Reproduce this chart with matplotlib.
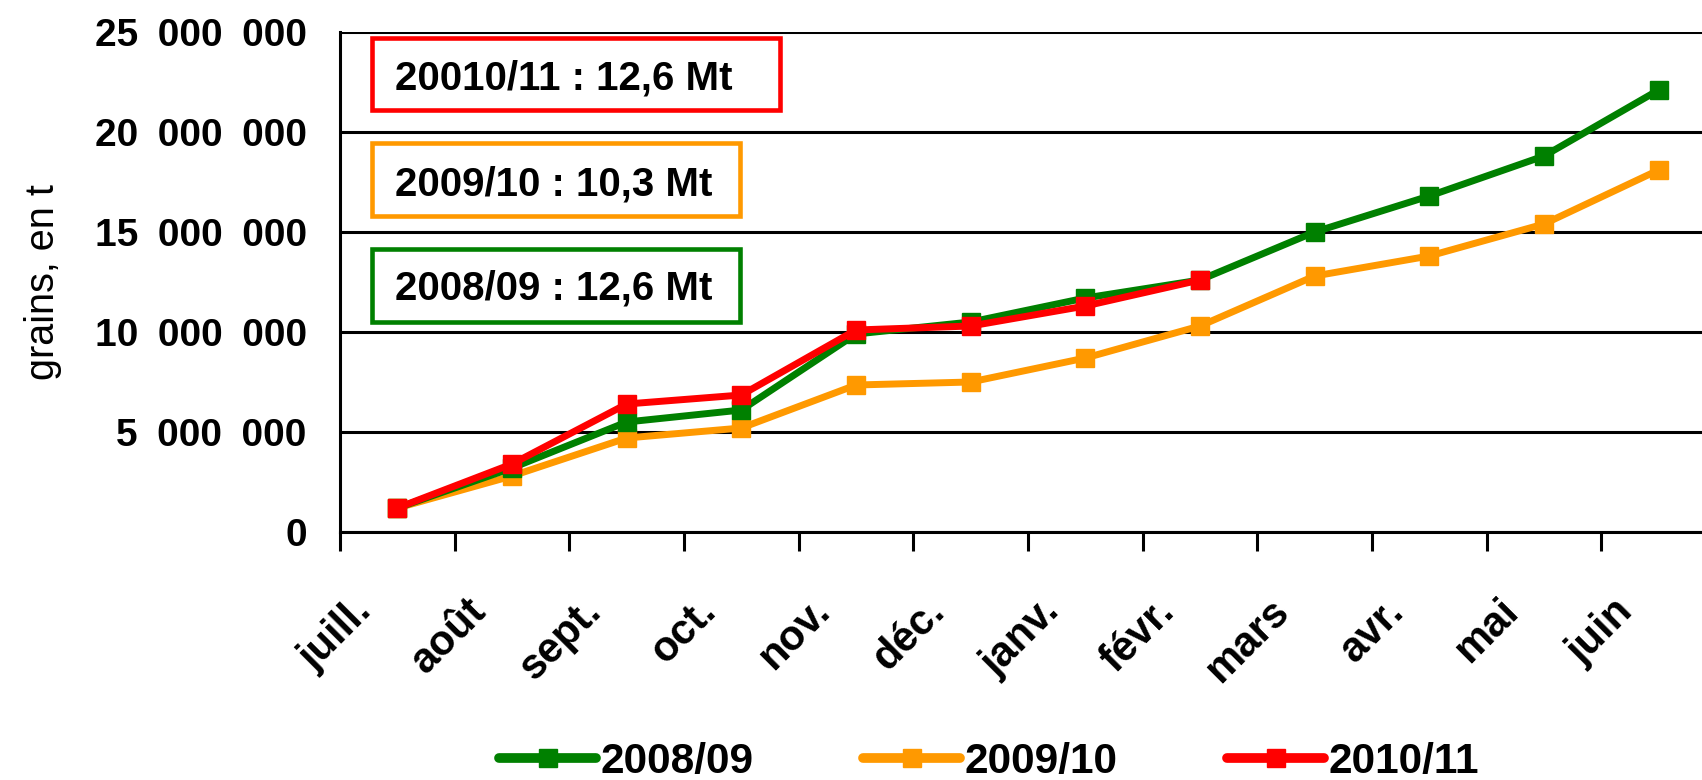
import matplotlib
matplotlib.use("Agg")
import matplotlib.pyplot as plt
from matplotlib.patches import Rectangle
from matplotlib.ticker import FuncFormatter, FixedLocator

plt.rcParams["font.family"] = ["Liberation Sans", "DejaVu Sans"]

months = ["juill.", "août", "sept.", "oct.", "nov.", "déc.",
          "janv.", "févr.", "mars", "avr.", "mai", "juin"]
s0809 = [1.2e6, 3.2e6, 5.5e6, 6.1e6, 9.9e6, 10.5e6, 11.7e6, 12.6e6,
         15.0e6, 16.8e6, 18.8e6, 22.1e6]
s0910 = [1.2e6, 2.8e6, 4.7e6, 5.2e6, 7.35e6, 7.5e6, 8.7e6, 10.3e6,
         12.8e6, 13.8e6, 15.4e6, 18.1e6]
s1011 = [1.2e6, 3.4e6, 6.4e6, 6.85e6, 10.1e6, 10.3e6, 11.3e6, 12.6e6]
series_labels = ["2008/09", "2009/10", "2010/11"]
box_texts = ["20010/11 : 12,6 Mt", "2009/10 : 10,3 Mt", "2008/09 : 12,6 Mt"]

GREEN, ORANGE, RED = "#008000", "#FF9900", "#FF0000"
W, H = 1702, 780
FS = 29

fig = plt.figure(figsize=(W / 100, H / 100), dpi=100)
# plot area runs past the right edge of the image, as in the original
ax = fig.add_axes([340 / W, 1 - 532 / H, 1376 / W, 500 / H])

x = list(range(len(months)))
kw = dict(marker="s", markersize=13, linewidth=5, solid_capstyle="round")
l1, = ax.plot(x, s0809, color=GREEN, zorder=4, **kw)
l2, = ax.plot(x, s0910, color=ORANGE, zorder=3, **kw)
l3, = ax.plot(x[:len(s1011)], s1011, color=RED, zorder=5, **kw)

ax.set_xlim(-0.5, 11.5)
ax.set_ylim(0, 25e6)
ax.set_yticks(range(0, 25000001, 5000000))
ax.yaxis.set_major_formatter(FuncFormatter(lambda v, p: f"{int(v):,}".replace(",", "\u2002")))
ax.grid(axis="y", color="black", linewidth=2.2, zorder=0)

ax.xaxis.set_major_locator(FixedLocator([i - 0.5 for i in range(13)]))
ax.set_xticklabels([])
ax.tick_params(axis="x", which="major", length=14, width=2.2, direction="out")
ax.tick_params(axis="y", length=0, labelsize=28, pad=24)
for t in ax.get_yticklabels():
    t.set_fontweight("bold")

# month labels, rotated under each category
for i, m in enumerate(months):
    ax.annotate(m, xy=(i, 0), xycoords=("data", "axes fraction"),
                xytext=(-46, -59), textcoords="offset pixels",
                rotation=45, rotation_mode="anchor", ha="right", va="top",
                fontsize=30, fontweight="bold")

for side in ["top", "right"]:
    ax.spines[side].set_visible(False)
for side in ["left", "bottom"]:
    ax.spines[side].set_linewidth(2.2)

ax.set_ylabel("grains, en t", fontsize=28.5)
ax.yaxis.set_label_coords(-0.202, 0.5)

# annotation boxes (pixel layout -> figure fractions)
boxes = [(371.5, 37.5, 780, 110, RED, 90),
         (371.5, 143, 740, 216, ORANGE, 195),
         (371.5, 249, 740, 322, GREEN, 300)]
for (x0, y0, x1, y1, c, base), txt in zip(boxes, box_texts):
    fig.patches.append(Rectangle((x0 / W, 1 - y1 / H), (x1 - x0) / W, (y1 - y0) / H,
                                 transform=fig.transFigure, fill=True, facecolor="white",
                                 edgecolor=c, linewidth=3.3, zorder=6))
    fig.text(395 / W, 1 - base / H, txt, fontsize=FS, fontweight="bold",
             va="baseline", ha="left", zorder=7)

leg = fig.legend([l1, l2, l3], series_labels, loc="center", bbox_to_anchor=(989 / W, 1 - 762 / H),
                 ncol=3, frameon=False, handlelength=2.28, handletextpad=0.1,
                 columnspacing=2.6, prop=dict(size=30.5, weight="bold"))
for h in leg.get_lines():
    h.set_linewidth(7)

fig.savefig("out.png", dpi=100)
